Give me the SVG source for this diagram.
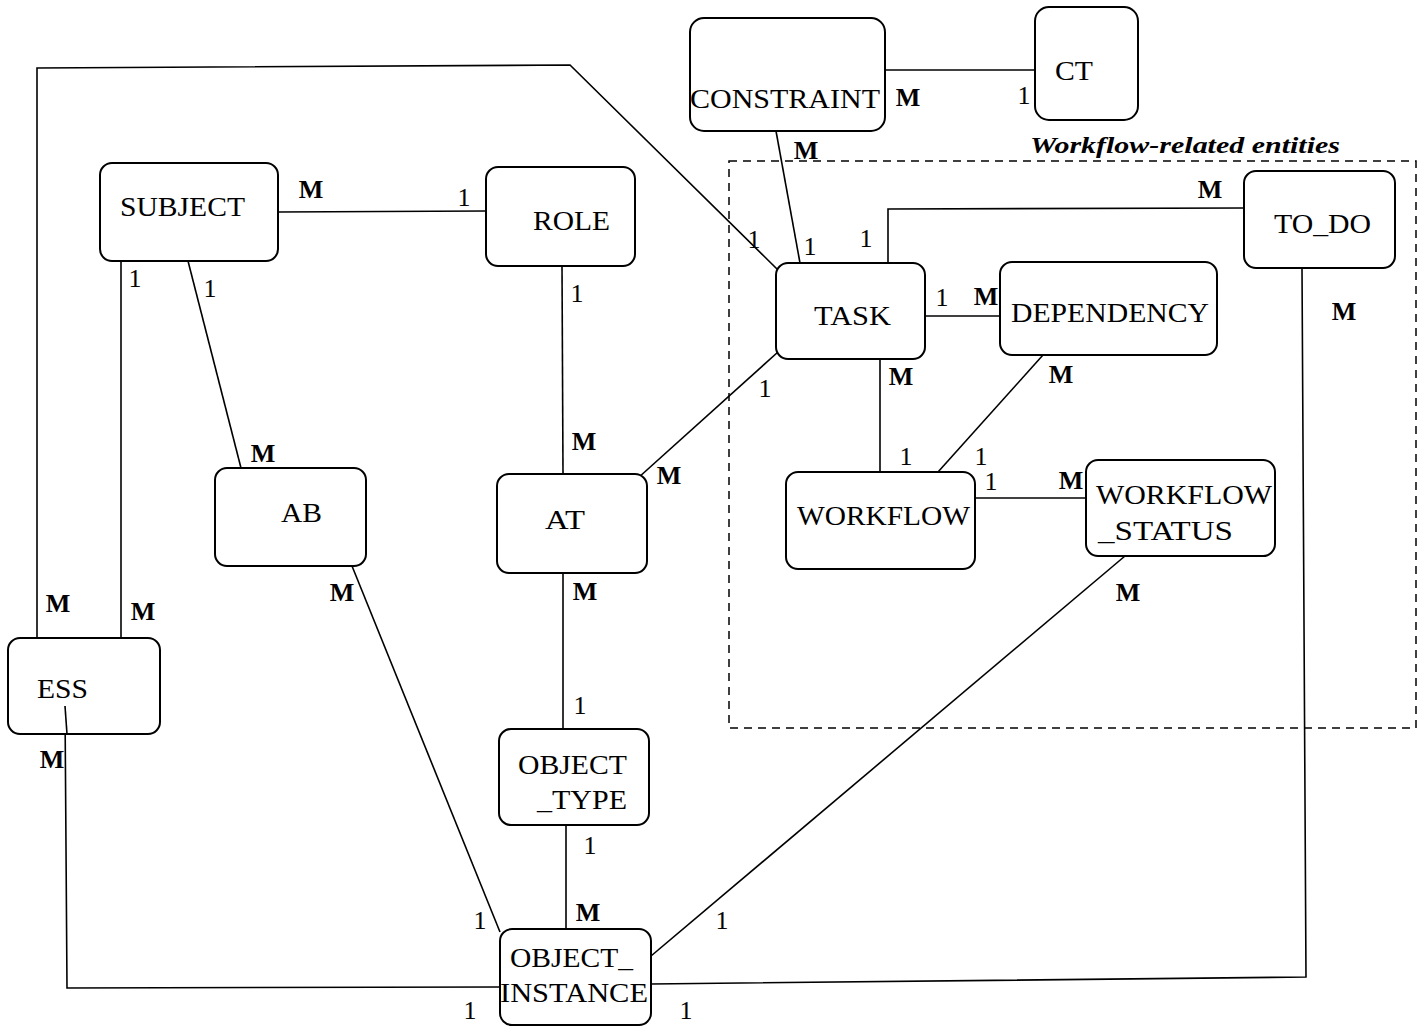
<svg xmlns="http://www.w3.org/2000/svg" width="1424" height="1027" viewBox="0 0 1424 1027">
<style>
.box{fill:#fff;stroke:#000;stroke-width:2}
.ln{fill:none;stroke:#000;stroke-width:1.6}
.t{font-family:"Liberation Serif","Times New Roman",serif;font-size:27px;fill:#000}
.c{font-family:"Liberation Serif","Times New Roman",serif;font-size:26px;fill:#000;text-anchor:middle}
.m{font-weight:bold}
.ttl{font-family:"Liberation Serif","Times New Roman",serif;font-size:23px;font-weight:bold;font-style:italic;fill:#000}
</style>
<rect width="1424" height="1027" fill="#fff"/>
<g id="workflow-boundary">
<rect x="729" y="161" width="687" height="567" fill="none" stroke="#000" stroke-width="1.5" stroke-dasharray="8,6"/>
<text class="ttl" x="1030" y="153" textLength="310" lengthAdjust="spacingAndGlyphs">Workflow-related entities</text>
</g>
<g id="connectors">
<polyline class="ln" points="885,70 1035,70"/>
<polyline class="ln" points="776,131 800,263"/>
<polyline class="ln" points="37,638 37,68 570,65 778,270"/>
<polyline class="ln" points="121,261 121,638"/>
<polyline class="ln" points="188,261 241,468"/>
<polyline class="ln" points="278,212 486,211"/>
<polyline class="ln" points="562,266 563,474"/>
<polyline class="ln" points="638,478 778,352"/>
<polyline class="ln" points="563,573 563,729"/>
<polyline class="ln" points="352,566 500,932"/>
<polyline class="ln" points="566,825 566,929"/>
<polyline class="ln" points="65,706 67,988 500,987"/>
<polyline class="ln" points="651,984 1306,977 1302,268"/>
<polyline class="ln" points="651,956 1125,556"/>
<polyline class="ln" points="888,263 888,209 1244,208"/>
<polyline class="ln" points="925,316 1000,316"/>
<polyline class="ln" points="880,359 880,472"/>
<polyline class="ln" points="1043,355 938,472"/>
<polyline class="ln" points="975,498 1086,498"/>
</g>
<g id="cardinalities">
<text class="c m" x="908" y="106">M</text>
<text class="c" x="1024" y="104">1</text>
<text class="c m" x="806" y="159">M</text>
<text class="c" x="754" y="248">1</text>
<text class="c" x="810" y="255">1</text>
<text class="c" x="866" y="247">1</text>
<text class="c m" x="1210" y="198">M</text>
<text class="c m" x="58" y="612">M</text>
<text class="c" x="135" y="287">1</text>
<text class="c m" x="143" y="620">M</text>
<text class="c" x="210" y="297">1</text>
<text class="c m" x="263" y="462">M</text>
<text class="c m" x="311" y="198">M</text>
<text class="c" x="464" y="206">1</text>
<text class="c" x="577" y="302">1</text>
<text class="c m" x="584" y="450">M</text>
<text class="c" x="765" y="397">1</text>
<text class="c m" x="669" y="484">M</text>
<text class="c m" x="585" y="600">M</text>
<text class="c" x="580" y="714">1</text>
<text class="c m" x="342" y="601">M</text>
<text class="c" x="480" y="929">1</text>
<text class="c" x="590" y="854">1</text>
<text class="c m" x="588" y="921">M</text>
<text class="c m" x="52" y="768">M</text>
<text class="c" x="470" y="1019">1</text>
<text class="c" x="686" y="1019">1</text>
<text class="c m" x="1344" y="320">M</text>
<text class="c" x="722" y="929">1</text>
<text class="c m" x="1128" y="601">M</text>
<text class="c" x="942" y="306">1</text>
<text class="c m" x="986" y="305">M</text>
<text class="c m" x="901" y="385">M</text>
<text class="c" x="906" y="465">1</text>
<text class="c m" x="1061" y="383">M</text>
<text class="c" x="981" y="465">1</text>
<text class="c" x="991" y="490">1</text>
<text class="c m" x="1071" y="489">M</text>
</g>
<g id="CONSTRAINT"><rect class="box" x="690" y="18" width="195" height="113" rx="14"/><text class="t" x="690" y="108" textLength="190" lengthAdjust="spacingAndGlyphs">CONSTRAINT</text></g>
<g id="CT"><rect class="box" x="1035" y="7" width="103" height="113" rx="14"/><text class="t" x="1055" y="80" textLength="38" lengthAdjust="spacingAndGlyphs">CT</text></g>
<g id="SUBJECT"><rect class="box" x="100" y="163" width="178" height="98" rx="12"/><text class="t" x="120" y="216" textLength="125" lengthAdjust="spacingAndGlyphs">SUBJECT</text></g>
<g id="ROLE"><rect class="box" x="486" y="167" width="149" height="99" rx="12"/><text class="t" x="533" y="230" textLength="77" lengthAdjust="spacingAndGlyphs">ROLE</text></g>
<g id="AB"><rect class="box" x="215" y="468" width="151" height="98" rx="12"/><text class="t" x="281" y="522" textLength="41" lengthAdjust="spacingAndGlyphs">AB</text></g>
<g id="AT"><rect class="box" x="497" y="474" width="150" height="99" rx="12"/><text class="t" x="545" y="529" textLength="40" lengthAdjust="spacingAndGlyphs">AT</text></g>
<g id="TASK"><rect class="box" x="776" y="263" width="149" height="96" rx="12"/><text class="t" x="814" y="325" textLength="77" lengthAdjust="spacingAndGlyphs">TASK</text></g>
<g id="DEPENDENCY"><rect class="box" x="1000" y="262" width="217" height="93" rx="12"/><text class="t" x="1011" y="322" textLength="198" lengthAdjust="spacingAndGlyphs">DEPENDENCY</text></g>
<g id="TO_DO"><rect class="box" x="1244" y="171" width="151" height="97" rx="12"/><text class="t" x="1274" y="233" textLength="97" lengthAdjust="spacingAndGlyphs">TO_DO</text></g>
<g id="WORKFLOW"><rect class="box" x="786" y="472" width="189" height="97" rx="12"/><text class="t" x="797" y="525" textLength="173" lengthAdjust="spacingAndGlyphs">WORKFLOW</text></g>
<g id="WORKFLOW_STATUS"><rect class="box" x="1086" y="460" width="189" height="96" rx="12"/><text class="t" x="1096" y="504" textLength="176" lengthAdjust="spacingAndGlyphs">WORKFLOW</text><text class="t" x="1098" y="540" textLength="135" lengthAdjust="spacingAndGlyphs">_STATUS</text></g>
<g id="ESS"><rect class="box" x="8" y="638" width="152" height="96" rx="12"/><text class="t" x="37" y="698" textLength="51" lengthAdjust="spacingAndGlyphs">ESS</text></g>
<g id="OBJECT_TYPE"><rect class="box" x="499" y="729" width="150" height="96" rx="12"/><text class="t" x="518" y="774" textLength="109" lengthAdjust="spacingAndGlyphs">OBJECT</text><text class="t" x="537" y="809" textLength="90" lengthAdjust="spacingAndGlyphs">_TYPE</text></g>
<g id="OBJECT_INSTANCE"><rect class="box" x="500" y="929" width="151" height="96" rx="12"/><text class="t" x="510" y="967" textLength="123" lengthAdjust="spacingAndGlyphs">OBJECT_</text><text class="t" x="500" y="1002" textLength="148" lengthAdjust="spacingAndGlyphs">INSTANCE</text></g>
<polyline class="ln" points="65,706 67,734"/>
</svg>
